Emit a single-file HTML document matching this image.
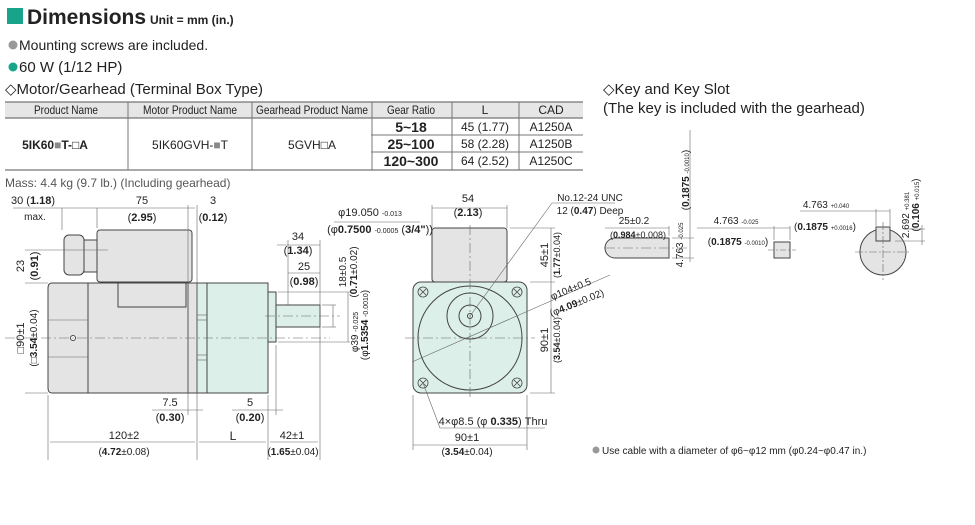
<!DOCTYPE html>
<html><head><meta charset="utf-8"><style>
body{margin:0;background:#fff;}
svg{display:block;font-family:"Liberation Sans",sans-serif;}
</style></head><body>
<svg width="975" height="525" viewBox="0 0 975 525" xmlns="http://www.w3.org/2000/svg">
<!-- header -->
<rect x="7" y="8" width="16" height="16" fill="#17a589"/>
<text x="27" y="24" font-size="21" font-weight="bold" fill="#222">Dimensions</text>
<text x="150" y="24" font-size="12" font-weight="bold" fill="#222">Unit = mm (in.)</text>
<circle cx="13" cy="45" r="4.5" fill="#999"/>
<text x="19" y="50" font-size="14" fill="#222">Mounting screws are included.</text>
<circle cx="13" cy="67" r="4.5" fill="#17a589"/>
<text x="19" y="72" font-size="15" fill="#222">60 W (1/12 HP)</text>
<text x="5" y="94" font-size="15" fill="#222">◇Motor/Gearhead (Terminal Box Type)</text>

<!-- table -->
<g font-size="12" fill="#222" text-anchor="middle">
<rect x="5" y="102" width="578" height="16" fill="#e6e6e6"/>
<line x1="5" y1="102" x2="583" y2="102" stroke="#555"/>
<line x1="5" y1="118" x2="583" y2="118" stroke="#555"/>
<line x1="371" y1="135" x2="583" y2="135" stroke="#777"/>
<line x1="371" y1="152" x2="583" y2="152" stroke="#777"/>
<line x1="5" y1="170" x2="583" y2="170" stroke="#555"/>
<g stroke="#777"><line x1="128" y1="102" x2="128" y2="170"/><line x1="252" y1="102" x2="252" y2="170"/><line x1="372" y1="102" x2="372" y2="170"/><line x1="452" y1="102" x2="452" y2="170"/><line x1="519" y1="102" x2="519" y2="170"/></g>
<text x="66" y="114" textLength="64" lengthAdjust="spacingAndGlyphs">Product Name</text>
<text x="190" y="114" textLength="94" lengthAdjust="spacingAndGlyphs">Motor Product Name</text>
<text x="312" y="114" textLength="112" lengthAdjust="spacingAndGlyphs">Gearhead Product Name</text>
<text x="411" y="114" textLength="48" lengthAdjust="spacingAndGlyphs">Gear Ratio</text>
<text x="485" y="114">L</text><text x="551" y="114">CAD</text>
<text x="55" y="149" font-weight="bold">5IK60<tspan fill="#888">■</tspan>T-□A</text>
<text x="190" y="149">5IK60GVH-<tspan fill="#888">■</tspan>T</text>
<text x="312" y="149">5GVH□A</text>
<g font-weight="bold" font-size="14"><text x="411" y="132">5~18</text><text x="411" y="149">25~100</text><text x="411" y="166">120~300</text></g>
<text x="485" y="131">45 (1.77)</text><text x="485" y="148">58 (2.28)</text><text x="485" y="165">64 (2.52)</text>
<text x="551" y="131">A1250A</text><text x="551" y="148">A1250B</text><text x="551" y="165">A1250C</text>
</g>
<text x="5" y="187" font-size="12" fill="#555">Mass: 4.4 kg (9.7 lb.) (Including gearhead)</text>

<!-- side view -->
<g stroke="#444" stroke-width="1" fill="#e4e4e4">
<path d="M52,283 H88 V393 H52 Q48,393 48,388 V288 Q48,283 52,283Z"/>
<rect x="88" y="283" width="100" height="110"/>
<rect x="118" y="283" width="68" height="24"/>
<rect x="97" y="230" width="95" height="52" rx="3"/>
<rect x="64" y="235" width="20" height="40" rx="5"/>
<rect x="84" y="240" width="13" height="32"/>
<rect x="188" y="283" width="9" height="110"/>
<rect x="197" y="283" width="71" height="110" fill="#dcefe8"/>
<line x1="207" y1="283" x2="207" y2="393"/>
<rect x="268" y="292" width="8" height="50" fill="#dcefe8"/>
<rect x="276" y="305" width="44" height="22" fill="#dcefe8"/>
<circle cx="73" cy="338" r="2.5" fill="#fff"/>
</g>
<g stroke="#666" stroke-width="0.6" fill="none">
<line x1="48" y1="320" x2="88" y2="320"/><line x1="48" y1="357" x2="88" y2="357"/>
<line x1="197" y1="315" x2="207" y2="315"/><line x1="197" y1="320" x2="207" y2="320"/>
<line x1="197" y1="355" x2="207" y2="355"/><line x1="197" y1="360" x2="207" y2="360"/>
<line x1="5" y1="338" x2="330" y2="338" stroke-dasharray="10,3,2,3"/>
<line x1="265" y1="316" x2="340" y2="316" stroke-dasharray="10,3,2,3"/>
<line x1="13" y1="208" x2="195" y2="208"/>
<line x1="62" y1="208" x2="62" y2="230"/><line x1="97" y1="208" x2="97" y2="228"/>
<line x1="188" y1="205" x2="188" y2="415"/><line x1="197" y1="205" x2="197" y2="460"/>
<line x1="25" y1="250" x2="108" y2="250"/><line x1="25" y1="283" x2="48" y2="283"/><line x1="25" y1="393" x2="48" y2="393"/>
<line x1="48" y1="395" x2="48" y2="460"/><line x1="268" y1="395" x2="268" y2="460"/><line x1="276" y1="345" x2="276" y2="415"/>
<line x1="320" y1="240" x2="320" y2="460"/><line x1="288" y1="305" x2="288" y2="240"/>
<line x1="50" y1="442" x2="195" y2="442"/><line x1="199" y1="442" x2="266" y2="442"/><line x1="270" y1="442" x2="318" y2="442"/>
<line x1="152" y1="410" x2="203" y2="410"/><line x1="232" y1="410" x2="283" y2="410"/>
<line x1="277" y1="245" x2="320" y2="245"/><line x1="288" y1="273" x2="320" y2="273"/>
<line x1="333" y1="305" x2="333" y2="327"/><line x1="322" y1="305" x2="336" y2="305"/><line x1="322" y1="327" x2="336" y2="327"/>
<line x1="348" y1="292" x2="348" y2="342"/><line x1="278" y1="292" x2="350" y2="292"/><line x1="278" y1="342" x2="350" y2="342"/>
<line x1="334" y1="222" x2="420" y2="222"/>
</g>
<g font-size="11" fill="#222" text-anchor="middle">
<text x="33" y="204">30 (<tspan font-weight="bold">1.18</tspan>)</text><text x="35" y="220" font-size="10">max.</text>
<text x="142" y="204">75</text><text x="142" y="221">(<tspan font-weight="bold">2.95</tspan>)</text>
<text x="213" y="204">3</text><text x="213" y="221">(<tspan font-weight="bold">0.12</tspan>)</text>
<text transform="translate(24,266) rotate(-90)">23</text>
<text transform="translate(38,266) rotate(-90)">(<tspan font-weight="bold">0.91</tspan>)</text>
<text transform="translate(24,338) rotate(-90)">□90±1</text>
<text transform="translate(37,338) rotate(-90)" font-size="10">(□<tspan font-weight="bold">3.54</tspan>±0.04)</text>
<text x="170" y="406">7.5</text><text x="170" y="421">(<tspan font-weight="bold">0.30</tspan>)</text>
<text x="250" y="406">5</text><text x="250" y="421">(<tspan font-weight="bold">0.20</tspan>)</text>
<text x="124" y="439">120±2</text><text x="124" y="455" font-size="10">(<tspan font-weight="bold">4.72</tspan>±0.08)</text>
<text x="233" y="440" font-size="12">L</text>
<text x="292" y="439">42±1</text><text x="293" y="455" font-size="10">(<tspan font-weight="bold">1.65</tspan>±0.04)</text>
<text x="298" y="240">34</text><text x="298" y="254">(<tspan font-weight="bold">1.34</tspan>)</text>
<text x="304" y="270">25</text><text x="304" y="285">(<tspan font-weight="bold">0.98</tspan>)</text>
<text x="370" y="216">φ19.050 <tspan font-size="7">-0.013</tspan></text>
<text x="380" y="233">(φ<tspan font-weight="bold">0.7500</tspan> <tspan font-size="7">-0.0005</tspan> (<tspan font-weight="bold">3/4"</tspan>))</text>
<text transform="translate(346,272) rotate(-90)" font-size="10">18±0.5</text>
<text transform="translate(357,272) rotate(-90)" font-size="10">(<tspan font-weight="bold">0.71</tspan>±0.02)</text>
<text transform="translate(358,332) rotate(-90)" font-size="10">φ39 <tspan font-size="7">-0.025</tspan></text>
<text transform="translate(368,325) rotate(-90)" font-size="10">(φ<tspan font-weight="bold">1.5354</tspan> <tspan font-size="7">-0.0010</tspan>)</text>
</g>

<!-- front view -->
<g stroke="#444" stroke-width="1">
<rect x="432" y="228" width="75" height="54" rx="3" fill="#e4e4e4"/>
<rect x="413" y="282" width="114" height="111" rx="8" fill="#dcefe8"/>
<circle cx="470" cy="338" r="52" fill="#dcefe8"/>
<circle cx="470" cy="316" r="23" fill="none"/>
<circle cx="470" cy="316" r="11" fill="none"/>
<circle cx="470" cy="316" r="2.5" fill="none"/>
</g>
<g stroke="#444" stroke-width="0.8" fill="none">
<circle cx="423" cy="292" r="5"/><circle cx="517" cy="292" r="5"/><circle cx="423" cy="383" r="5"/><circle cx="517" cy="383" r="5"/>
<path d="M420,289l6,6m0,-6l-6,6M514,289l6,6m0,-6l-6,6M420,380l6,6m0,-6l-6,6M514,380l6,6m0,-6l-6,6"/>
</g>
<g stroke="#666" stroke-width="0.6" fill="none">
<line x1="405" y1="338" x2="535" y2="338" stroke-dasharray="10,3,2,3"/>
<line x1="470" y1="225" x2="470" y2="400" stroke-dasharray="10,3,2,3"/>
<line x1="432" y1="205" x2="432" y2="228"/><line x1="507" y1="205" x2="507" y2="228"/><line x1="432" y1="208" x2="507" y2="208"/>
<line x1="510" y1="228" x2="555" y2="228"/><line x1="530" y1="282" x2="555" y2="282"/><line x1="530" y1="393" x2="555" y2="393"/>
<line x1="551" y1="228" x2="551" y2="393"/>
<line x1="470" y1="316" x2="552" y2="203"/><line x1="552" y1="203" x2="615" y2="203"/>
<line x1="412" y1="362" x2="610" y2="275"/>
<line x1="413" y1="395" x2="413" y2="450"/><line x1="527" y1="395" x2="527" y2="450"/><line x1="413" y1="445" x2="527" y2="445"/>
<line x1="423" y1="383" x2="440" y2="428"/><line x1="440" y1="428" x2="545" y2="428"/>
</g>
<g font-size="11" fill="#222" text-anchor="middle">
<text x="468" y="202">54</text><text x="468" y="216">(<tspan font-weight="bold">2.13</tspan>)</text>
<text x="590" y="201" font-size="10">No.12-24 UNC</text>
<text x="590" y="214" font-size="10">12 (<tspan font-weight="bold">0.47</tspan>) Deep</text>
<text transform="translate(548,255) rotate(-90)">45±1</text>
<text transform="translate(560,255) rotate(-90)" font-size="9">(<tspan font-weight="bold">1.77</tspan>±0.04)</text>
<text transform="translate(572,292) rotate(-22)" font-size="10">φ104±0.5</text>
<text transform="translate(578,306) rotate(-22)" font-size="10">(φ<tspan font-weight="bold">4.09</tspan>±0.02)</text>
<text transform="translate(548,340) rotate(-90)">90±1</text>
<text transform="translate(560,340) rotate(-90)" font-size="9">(<tspan font-weight="bold">3.54</tspan>±0.04)</text>
<text x="493" y="425">4×φ8.5 (φ <tspan font-weight="bold">0.335</tspan>) Thru</text>
<text x="467" y="441">90±1</text><text x="467" y="455" font-size="10">(<tspan font-weight="bold">3.54</tspan>±0.04)</text>
</g>

<!-- key section -->
<text x="603" y="94" font-size="15" fill="#222">◇Key and Key Slot</text>
<text x="603" y="113" font-size="15" fill="#222">(The key is included with the gearhead)</text>
<g stroke="#444" stroke-width="1" fill="#e4e4e4">
<path d="M615,238 H669 V258 H615 A10,10 0 0 1 615,238Z"/>
<rect x="774" y="242" width="16" height="16"/>
<circle cx="883" cy="252" r="23"/>
<rect x="876" y="227" width="14" height="14"/>
</g>
<g stroke="#666" stroke-width="0.6" fill="none">
<line x1="605" y1="248" x2="690" y2="248" stroke-dasharray="10,3,2,3"/>
<line x1="605" y1="228" x2="669" y2="228"/><line x1="669" y1="226" x2="669" y2="236"/>
<line x1="690" y1="130" x2="690" y2="262"/><line x1="672" y1="238" x2="694" y2="238"/><line x1="672" y1="258" x2="694" y2="258"/>
<line x1="697" y1="228" x2="790" y2="228"/><line x1="774" y1="226" x2="774" y2="240"/><line x1="790" y1="226" x2="790" y2="240"/>
<line x1="768" y1="250" x2="796" y2="250" stroke-dasharray="6,2,2,2"/>
<line x1="800" y1="211" x2="890" y2="211"/><line x1="876" y1="209" x2="876" y2="226"/><line x1="890" y1="209" x2="890" y2="226"/>
<line x1="883" y1="222" x2="883" y2="280" stroke-dasharray="8,2,2,2"/><line x1="855" y1="252" x2="910" y2="252" stroke-dasharray="8,2,2,2"/>
<line x1="905" y1="229" x2="925" y2="229"/><line x1="895" y1="241" x2="925" y2="241"/><line x1="922" y1="225" x2="922" y2="245"/>
</g>
<g font-size="10" fill="#222" text-anchor="middle">
<text x="634" y="224">25±0.2</text><text x="638" y="238" font-size="9">(<tspan font-weight="bold">0.984</tspan>±0.008)</text>
<text transform="translate(683,245) rotate(-90)">4.763 <tspan font-size="6">-0.025</tspan></text>
<text transform="translate(689,180) rotate(-90)">(<tspan font-weight="bold">0.1875</tspan> <tspan font-size="6">-0.0010</tspan>)</text>
<text x="736" y="224">4.763 <tspan font-size="6">-0.025</tspan></text>
<text x="738" y="245">(<tspan font-weight="bold">0.1875</tspan> <tspan font-size="6">-0.0010</tspan>)</text>
<text x="826" y="208">4.763 <tspan font-size="6">+0.040</tspan></text>
<text x="825" y="230">(<tspan font-weight="bold">0.1875</tspan> <tspan font-size="6">+0.0016</tspan>)</text>
<text transform="translate(909,215) rotate(-90)">2.692 <tspan font-size="6">+0.381</tspan></text>
<text transform="translate(919,205) rotate(-90)">(<tspan font-weight="bold">0.106</tspan> <tspan font-size="6">+0.015</tspan>)</text>
</g>
<circle cx="596" cy="450" r="3.5" fill="#999"/>
<text x="602" y="454" font-size="10" fill="#222">Use cable with a diameter of φ6~φ12 mm (φ0.24~φ0.47 in.)</text>
</svg>
</body></html>
